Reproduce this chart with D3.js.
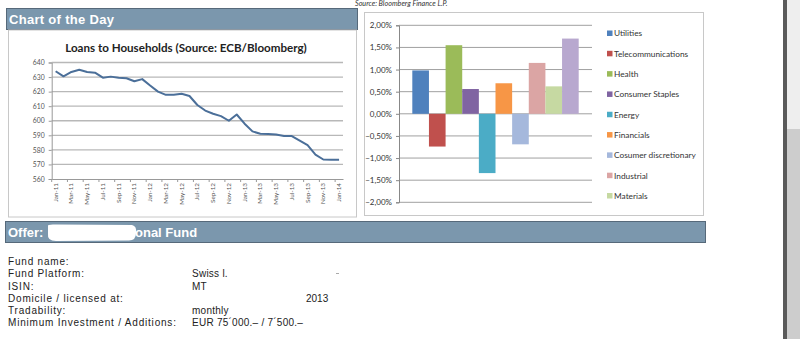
<!DOCTYPE html>
<html><head><meta charset="utf-8">
<script src="https://cdn.jsdelivr.net/npm/d3@7"></script>
<style>
html,body{margin:0;padding:0;background:#fff;overflow:hidden}
svg{display:block}
</style></head>
<body>
<svg id="c" width="800" height="339"></svg>
<script>
// ---- Data ----
const months = ["Jan-11","Feb-11","Mar-11","Apr-11","May-11","Jun-11","Jul-11","Aug-11","Sep-11","Oct-11","Nov-11","Dec-11",
"Jan-12","Feb-12","Mar-12","Apr-12","May-12","Jun-12","Jul-12","Aug-12","Sep-12","Oct-12","Nov-12","Dec-12",
"Jan-13","Feb-13","Mar-13","Apr-13","May-13","Jun-13","Jul-13","Aug-13","Sep-13","Oct-13","Nov-13","Dec-13","Jan-14"];
const loans = [634,630.5,633.5,635,633.5,633,629.6,630.3,629.6,629.2,627.1,628.6,
624.2,620,617.8,617.8,618.5,617,610.8,607,604.8,603.2,600,604.3,
598,592.7,591.1,590.9,590.5,589.5,589.5,586.4,583.2,576.8,573.4,573.2,573.2];
const loanTicks = [560,570,580,590,600,610,620,630,640];

const sectors = ["Utilities","Telecommunications","Health","Consumer Staples","Energy","Financials","Cosumer discretionary","Industrial","Materials","Technology"];
const sectorValues = [0.98,-0.74,1.55,0.56,-1.34,0.69,-0.69,1.15,0.62,1.70];
const sectorColors = ["#4f81bd","#c0504d","#9bbb59","#8064a2","#4bacc6","#f79646","#a5b8dc","#dba5a4","#c6d9a2","#b8a8cf"];
const pctTicks = [-2,-1.5,-1,-0.5,0,0.5,1,1.5,2];

const fundLabels = ["Fund name:","Fund Platform:","ISIN:","Domicile / licensed at:","Tradability:","Minimum Investment / Additions:"];
const fundValues = ["","Swiss l.","MT","","monthly","EUR 75´000.– / 7´500.–"];

const svg = d3.select("#c");
const barFill = "#7b97ad", barStroke = "#56697a";

// right-side scrollbar decoration
svg.append("rect").attr("x",783).attr("y",0).attr("width",4).attr("height",339).attr("fill","#5a5a5a");
svg.append("rect").attr("x",787).attr("y",0).attr("width",13).attr("height",129).attr("fill","#eeeeee");
svg.append("rect").attr("x",787).attr("y",129).attr("width",13).attr("height",210).attr("fill","#cdcdcd");

// Header bar
svg.append("rect").attr("x",6.5).attr("y",8.5).attr("width",351).attr("height",21).attr("fill",barFill).attr("stroke",barStroke);
svg.append("text").attr("x",9).attr("y",24).attr("fill","#fff").attr("font-family","Liberation Sans, Arial, sans-serif")
  .attr("font-weight","bold").attr("font-size",13).attr("letter-spacing",0.3).text("Chart of the Day");

svg.append("text").attr("x",355).attr("y",5.5).attr("fill","#333").attr("font-family","Lato, sans-serif")
  .attr("font-style","italic").attr("font-size",7.2).text("Source: Bloomberg Finance L.P.");

// Boxes
svg.append("rect").attr("x",8.5).attr("y",30).attr("width",348).attr("height",187).attr("fill","#fff").attr("stroke","#c8c8c8");
svg.append("rect").attr("x",364.5).attr("y",12.5).attr("width",339).attr("height",203).attr("fill","#fff").attr("stroke","#c8c8c8");

// ---- Left line chart ----
const xL = d3.scaleBand().domain(months).range([51.7,343]);
const yL = d3.scaleLinear().domain([560,640]).range([179,62.5]);
const gL = svg.append("g");
gL.selectAll("line.grid").data(loanTicks.filter(d=>d>560)).join("line")
  .attr("x1",xL.range()[0]).attr("x2",xL.range()[1]).attr("y1",d=>yL(d)).attr("y2",d=>yL(d))
  .attr("stroke","#b8b8b8").attr("stroke-width",1.3);
const yAxL = gL.append("g").attr("transform",`translate(${xL.range()[0]},0)`)
  .call(d3.axisLeft(yL).tickValues(loanTicks).tickSize(3).tickPadding(4));
yAxL.selectAll("text").attr("font-family","Lato, sans-serif").attr("font-size",6.8).attr("fill","#555");
yAxL.selectAll("line,path").attr("stroke","#999");
const xAxL = gL.append("g").attr("transform",`translate(0,${yL(560)})`)
  .call(d3.axisBottom(xL).tickValues(months.filter((d,i)=>i%2===0)).tickSize(0).tickPadding(0));
xAxL.select("path").attr("stroke","#999");
xAxL.selectAll("text").attr("font-family","Lato, sans-serif").attr("font-size",6.3).attr("fill","#555")
  .attr("transform","rotate(-90)").attr("text-anchor","end").attr("dy","0.32em").attr("x",-4).attr("y",0);
// boundary tick marks every 2 categories
gL.selectAll("line.bt").data(months.filter((d,i)=>i%2===0)).join("line")
  .attr("x1",d=>xL(d)).attr("x2",d=>xL(d)).attr("y1",yL(560)).attr("y2",yL(560)+3).attr("stroke","#999");
gL.append("path").datum(loans).attr("fill","none").attr("stroke","#4b6f99").attr("stroke-width",2)
  .attr("stroke-linejoin","round")
  .attr("d",d3.line().x((d,i)=>xL(months[i])+xL.bandwidth()/2).y(d=>yL(d)));
gL.append("text").attr("x",186).attr("y",52).attr("text-anchor","middle").attr("font-family","Lato, sans-serif")
  .attr("font-weight","bold").attr("font-size",11.6).attr("fill","#222").text("Loans to Households (Source: ECB/Bloomberg)");

// ---- Right bar chart ----
const xR = d3.scaleBand().domain(sectors).range([399,592]).paddingInner(0).paddingOuter(0.8);
const yR = d3.scaleLinear().domain([-2,2]).range([202.3,25.3]);
const gR = svg.append("g");
gR.selectAll("line.grid").data(pctTicks).join("line")
  .attr("x1",399).attr("x2",592).attr("y1",d=>yR(d)).attr("y2",d=>yR(d)).attr("stroke","#a0a0a0").attr("stroke-width",1);
gR.selectAll("rect.bar").data(sectors).join("rect")
  .attr("x",d=>xR(d)).attr("width",xR.bandwidth())
  .attr("y",(d,i)=>yR(Math.max(0,sectorValues[i]))).attr("height",(d,i)=>Math.abs(yR(sectorValues[i])-yR(0)))
  .attr("fill",(d,i)=>sectorColors[i]);
const yAxR = gR.append("g").attr("transform","translate(399,0)")
  .call(d3.axisLeft(yR).tickValues(pctTicks).tickSize(3).tickPadding(4)
    .tickFormat(d=>d3.format(".2f")(d).replace(".",",")+"%"));
yAxR.selectAll("text").attr("font-family","Lato, sans-serif").attr("font-size",8).attr("fill","#333");
yAxR.selectAll("line,path").attr("stroke","#888");

const legendItems = sectors.slice(0,9);
const legY = d3.scalePoint().domain(legendItems).range([33.5,196]);
const lg = gR.selectAll("g.leg").data(legendItems).join("g").attr("transform",d=>`translate(607,${legY(d)})`);
lg.append("rect").attr("x",0).attr("y",-3).attr("width",5.5).attr("height",5.5).attr("fill",(d,i)=>sectorColors[i]);
lg.append("text").attr("x",7).attr("y",0).attr("dy","0.35em").attr("font-family","Lato, sans-serif").attr("font-size",8.3)
  .attr("fill","#333").text(d=>d);

// ---- Offer bar ----
svg.append("rect").attr("x",5.5).attr("y",221.5).attr("width",700).attr("height",21).attr("fill",barFill).attr("stroke",barStroke);
svg.append("path").attr("d","M48,226 Q47,224 56,224.5 L132,225 Q137,226 136,233 Q136,241 128,240.5 L56,241 Q47,241 48,234 Z").attr("fill","#fff");
svg.append("text").attr("x",8).attr("y",236.5).attr("fill","#fff").attr("font-family","Liberation Sans, Arial, sans-serif")
  .attr("font-weight","bold").attr("font-size",13).text("Offer:");
svg.append("text").attr("x",135).attr("y",236.5).attr("fill","#fff").attr("font-family","Liberation Sans, Arial, sans-serif")
  .attr("font-weight","bold").attr("font-size",13).text("onal Fund");

// ---- Fund details ----
const fy = d3.scaleBand().domain(d3.range(fundLabels.length)).range([255.5,328.5]);
svg.selectAll("text.fl").data(fundLabels).join("text").attr("class","fl")
  .attr("x",8).attr("y",(d,i)=>fy(i)+fy.bandwidth()*0.8).attr("font-family","Liberation Sans, Arial, sans-serif")
  .attr("font-size",10).attr("letter-spacing",0.8).attr("fill","#222").text(d=>d);
svg.selectAll("text.fv").data(fundValues).join("text").attr("class","fv")
  .attr("x",192).attr("y",(d,i)=>fy(i)+fy.bandwidth()*0.8).attr("font-family","Liberation Sans, Arial, sans-serif")
  .attr("font-size",10).attr("letter-spacing",0.25).attr("fill","#222").text(d=>d);
svg.append("text").attr("x",306).attr("y",fy(3)+fy.bandwidth()*0.8).attr("font-family","Liberation Sans, Arial, sans-serif")
  .attr("font-size",10).attr("fill","#222").text("2013");
svg.append("rect").attr("x",336).attr("y",273).attr("width",3).attr("height",1).attr("fill","#aaa");
</script>
</body></html>
